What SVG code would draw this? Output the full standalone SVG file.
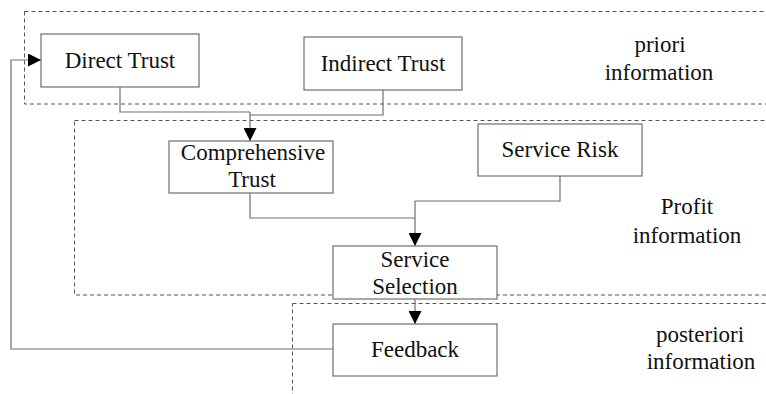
<svg xmlns="http://www.w3.org/2000/svg" width="766" height="394" viewBox="0 0 766 394" font-family="'Liberation Serif', 'DejaVu Serif', serif">
<style>
.box{fill:#fff;stroke:#6e6e6e;stroke-width:1.2}
.zone{fill:none;stroke:#555;stroke-width:1;stroke-dasharray:4,3}
.ln{fill:none;stroke:#6e6e6e;stroke-width:1.2}
.t{font-family:'Liberation Serif','DejaVu Serif',serif;font-size:23px;fill:#111;text-anchor:middle}
</style>
<defs>
<marker id="ah" markerWidth="13" markerHeight="13" refX="13" refY="6.5" orient="auto" markerUnits="userSpaceOnUse">
<path d="M0,0 L13,6.5 L0,13 Z" fill="#000"/>
</marker>
</defs>
<rect width="766" height="394" fill="#fff"/>
<g id="zones">
<rect class="zone" x="24.5" y="11.5" width="760" height="92.5"/>
<rect class="zone" x="74.5" y="120.5" width="710" height="174.5"/>
<rect class="zone" x="292.5" y="303.5" width="490" height="110"/>
<text class="t" x="660" y="52">priori</text>
<text class="t" x="659" y="80">information</text>
<text class="t" x="687" y="214">Profit</text>
<text class="t" x="687" y="243">information</text>
<text class="t" x="700" y="342">posteriori</text>
<text class="t" x="701" y="369">information</text>
</g>
<g id="connectors">
<polyline class="ln" points="120,87 120,112 250,112"/>
<polyline class="ln" points="383,90 383,115 250,115"/>
<line class="ln" x1="250" y1="112" x2="250" y2="141" marker-end="url(#ah)"/>
<polyline class="ln" points="250,193 250,218 415,218"/>
<polyline class="ln" points="560,176 560,201 415,201"/>
<line class="ln" x1="415" y1="201" x2="415" y2="246" marker-end="url(#ah)"/>
<line class="ln" x1="415" y1="299" x2="415" y2="324" marker-end="url(#ah)"/>
<polyline class="ln" points="333,349 11,349 11,60 41,60" marker-end="url(#ah)"/>
</g>
<g id="direct-trust">
<rect class="box" x="41" y="34" width="158" height="53"/>
<text class="t" x="120" y="68">Direct Trust</text>
</g>
<g id="indirect-trust">
<rect class="box" x="304" y="37" width="158" height="53"/>
<text class="t" x="383" y="71">Indirect Trust</text>
</g>
<g id="comprehensive-trust">
<rect class="box" x="169" y="141" width="164" height="52"/>
<text class="t" x="253" y="160">Comprehensive</text>
<text class="t" x="252" y="187">Trust</text>
</g>
<g id="service-risk">
<rect class="box" x="478" y="124" width="164" height="52"/>
<text class="t" x="560" y="157">Service Risk</text>
</g>
<g id="service-selection">
<rect class="box" x="333" y="246" width="164" height="53"/>
<text class="t" x="415" y="267">Service</text>
<text class="t" x="415" y="294">Selection</text>
</g>
<g id="feedback">
<rect class="box" x="333" y="324" width="164" height="52"/>
<text class="t" x="415" y="357">Feedback</text>
</g>
</svg>
